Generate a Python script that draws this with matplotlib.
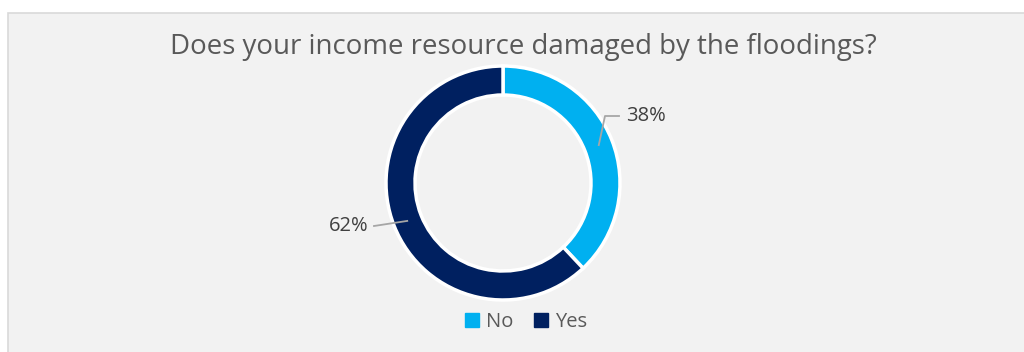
import numpy as np
import matplotlib.pyplot as plt
from matplotlib.patches import Rectangle, Patch

# survey answers
labels = ["No", "Yes"]
shares = [38, 62]
colors = ["#00b0f0", "#002060"]
title = "Does your income resource damaged by the floodings?"

W, H = 1024, 352
fig = plt.figure(figsize=(W / 100, H / 100), dpi=100)
fig.patch.set_facecolor("white")
ax = fig.add_axes([0, 0, 1, 1])
ax.set_xlim(0, W)
ax.set_ylim(0, H)
ax.set_aspect("equal")
ax.axis("off")

# chart panel
ax.add_patch(Rectangle((8, -10), W, H - 13 + 10, facecolor="#f2f2f2",
                       edgecolor="#d9d9d9", linewidth=1.2, zorder=0))

cx, cy, R = 503, H - 183, 117
wedges, _ = ax.pie(shares, colors=colors, startangle=90, counterclock=False,
                   radius=R, center=(cx, cy), frame=True,
                   wedgeprops=dict(width=29, edgecolor="white", linewidth=2.5))
ax.set_xlim(0, W)
ax.set_ylim(0, H)
ax.axis("off")

font = "Open Sans"
txt_color = "#595959"
line_color = "#a6a6a6"

# data labels with leader lines
label_pos = {"No": (626, H - 116, "left"), "Yes": (368, H - 226, "right")}
for w, lab, val in zip(wedges, labels, shares):
    ang = np.deg2rad((w.theta1 + w.theta2) / 2)
    px, py = cx + 103 * np.cos(ang), cy + 103 * np.sin(ang)
    tx, ty, ha = label_pos[lab]
    if ha == "left":
        xs = [px, 605, 619]
        ys = [py, ty, ty]
    else:
        xs = [px, 374]
        ys = [py, ty]
    ax.plot(xs, ys, color=line_color, lw=1.3, zorder=5)
    ax.text(tx, ty, f"{val}%", ha=ha, va="center", fontsize=14.5,
            color="#404040", family=font)

ax.text(523, H - 47, title, ha="center", va="center", fontsize=19.9,
        color=txt_color, family=font)

handles = [Patch(color=c, label=l) for c, l in zip(colors, labels)]
fig.legend(handles=handles, loc="center", bbox_to_anchor=(526 / W, 1 - 322 / H),
           ncol=2, frameon=False, handlelength=0.7, handleheight=0.7,
           handletextpad=0.35, columnspacing=1.0,
           prop=dict(family=font, size=14.5), labelcolor=txt_color)

fig.savefig("out.png", dpi=100, facecolor="white")
